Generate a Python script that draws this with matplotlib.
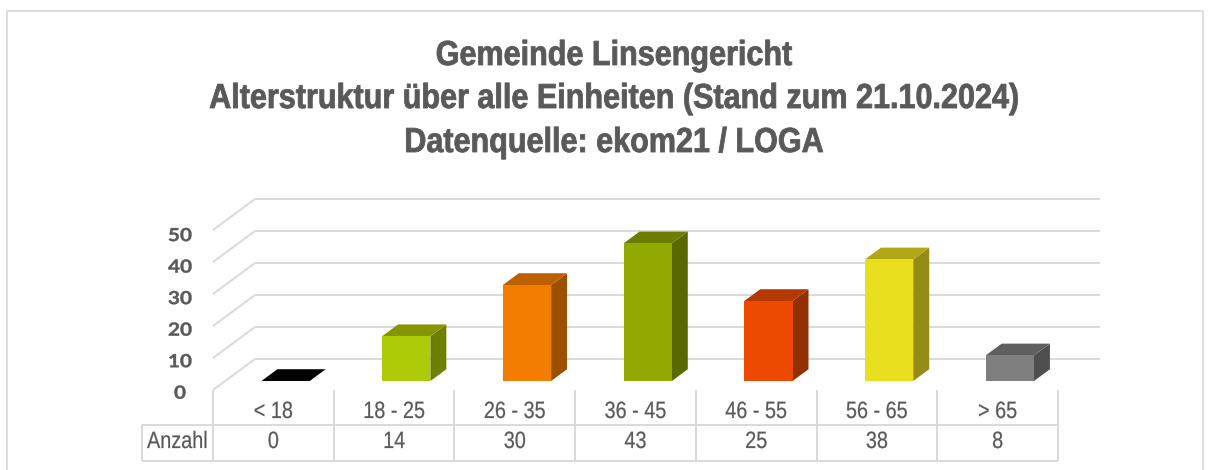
import matplotlib
matplotlib.use("Agg")
import matplotlib.pyplot as plt
from matplotlib.patches import Polygon
from matplotlib.patheffects import AbstractPathEffect
from matplotlib.transforms import Affine2D

categories = ["< 18", "18 - 25", "26 - 35", "36 - 45", "46 - 55", "56 - 65", "> 65"]
values = [0, 14, 30, 43, 25, 38, 8]
y_ticks = [0, 10, 20, 30, 40, 50]
row_label = "Anzahl"
title_lines = ["Gemeinde Linsengericht",
               "Alterstruktur über alle Einheiten (Stand zum 21.10.2024)",
               "Datenquelle: ekom21 / LOGA"]
front_colors = ["#000000", "#AFCB08", "#F27D00", "#93A800", "#EB4A00", "#EADF1F", "#7F7F7F"]
top_colors = ["#000000", "#869600", "#BD6100", "#6D7D00", "#B53800", "#B2A816", "#5F5F5F"]
side_colors = ["#000000", "#6F8000", "#9B5000", "#5A6800", "#933000", "#958C15", "#4F4F4F"]


class Stretch(AbstractPathEffect):
    """Scale a text's glyphs horizontally about the text's centre, with optional emboldening."""

    def __init__(self, sx, stroke=0.0):
        super().__init__()
        self.sx = sx
        self.stroke = stroke

    def draw_path(self, renderer, gc, tpath, affine, rgbFace=None):
        ext = tpath.get_extents()
        cx = (ext.x0 + ext.x1) / 2
        t = Affine2D().translate(-cx, 0).scale(self.sx, 1).translate(cx, 0)
        gc0 = renderer.new_gc()
        gc0.copy_properties(gc)
        if self.stroke > 0:
            gc0.set_foreground(rgbFace)
            gc0.set_linewidth(self.stroke)
        else:
            gc0.set_linewidth(0)
        renderer.draw_path(gc0, tpath, t + affine, rgbFace)
        gc0.restore()


W, H = 1217, 470
GRID = "#D9D9D9"
TXT = "#595959"
FONT = "Liberation Sans"
fig = plt.figure(figsize=(W / 100, H / 100), dpi=100, facecolor="white")

PX_PER_CAT = (1058 - 213) / 7
PX_PER_VAL = 3.2
ax = fig.add_axes([213 / W, (H - 390) / H, (1058 - 213) / W, 200 / H])
ax.set_xlim(-0.5, 6.5)
ax.set_ylim(0, 200 / PX_PER_VAL)
ax.axis("off")

DX = 42 / PX_PER_CAT
DY = 31 / PX_PER_VAL
BAR_W = 0.40
D0, D1 = 0.29, 0.67


def proj(x, v, d):
    return x + d * DX, v + d * DY


def px_y(py):
    return (390 - py) / PX_PER_VAL


def px_x(px):
    return (px - 213) / PX_PER_CAT - 0.5


line_kw = dict(color=GRID, lw=1.4, clip_on=False, solid_capstyle="butt")

x_end = px_x(1100)
for t in y_ticks:
    x0, y0 = proj(-0.5, t, 0)
    x1, y1 = proj(-0.5, t, 1)
    ax.plot([x0, x1, x_end], [y0, y1, y1], zorder=1, **line_kw)

for i, v in enumerate(values):
    l, r = i - BAR_W / 2, i + BAR_W / 2
    x_l, y_b = proj(l, 0, D0)
    x_r, y_t = proj(r, v, D0)
    ax.bar(x_l, y_t - y_b, width=x_r - x_l, bottom=y_b, align="edge",
           color=front_colors[i], linewidth=0, zorder=3, clip_on=False)
    ax.add_patch(Polygon([proj(r, 0, D0), proj(r, v, D0), proj(r, v, D1), proj(r, 0, D1)],
                         closed=True, fc=side_colors[i], ec="none", zorder=2, clip_on=False))
    ax.add_patch(Polygon([proj(l, v, D0), proj(r, v, D0), proj(r, v, D1), proj(l, v, D1)],
                         closed=True, fc=top_colors[i], ec="none", zorder=2, clip_on=False))

for t in y_ticks:
    ax.text(px_x(180), t * 0.985 - 1.0, str(t), ha="center", va="center", fontsize=13,
            family="Lato", weight="bold", color=TXT, clip_on=False,
            path_effects=[Stretch(1.15, 0.3)])

y_top, y_mid, y_bot = px_y(390), px_y(425), px_y(461)
for k in range(8):
    ax.plot([k - 0.5, k - 0.5], [y_top, y_bot], zorder=1, **line_kw)
x_left = px_x(142)
ax.plot([x_left, 6.5], [y_mid, y_mid], zorder=1, **line_kw)
ax.plot([x_left, 6.5], [y_bot, y_bot], zorder=1, **line_kw)
ax.plot([x_left, x_left], [y_mid, y_bot], zorder=1, **line_kw)
font_tbl = dict(fontsize=17, family=FONT, color=TXT, ha="center", va="center", clip_on=False,
                path_effects=[Stretch(0.84, 0.15)])
for i, (c, v) in enumerate(zip(categories, values)):
    ax.text(i, px_y(412), c, **font_tbl)
    ax.text(i, px_y(442), str(v), **font_tbl)
ax.text(px_x(177.5), px_y(442), row_label, **font_tbl)

for line, py in zip(title_lines, [65, 108, 152]):
    fig.text(614 / W, 1 - py / H, line, ha="center", va="baseline", fontsize=25,
             family=FONT, weight="bold", color=TXT, path_effects=[Stretch(0.88, 0.6)])

fig.add_artist(plt.Line2D([7 / W, 7 / W, 1203 / W, 1203 / W],
                          [0, 1 - 11 / H, 1 - 11 / H, 0], color="#DEDEDE", lw=1.4))

fig.savefig("out.png", dpi=100)
